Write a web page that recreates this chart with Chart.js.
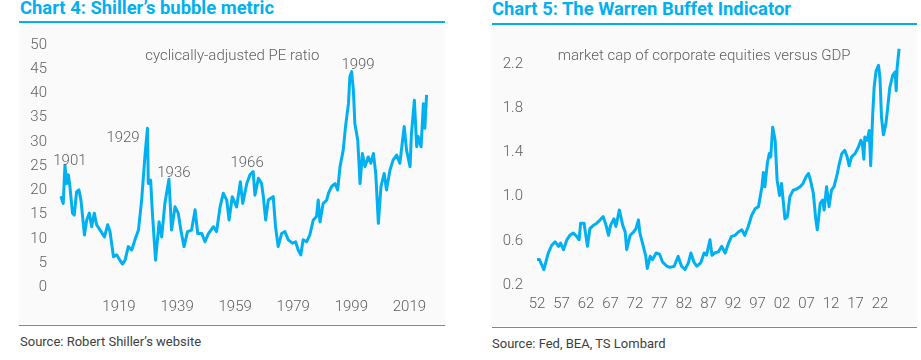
<!DOCTYPE html>
<html>
<head>
<meta charset="utf-8">
<script src="https://cdn.jsdelivr.net/npm/chart.js@4.4.1/dist/chart.umd.min.js"></script>
<style>
  html, body { margin:0; padding:0; background:#ffffff; width:921px; height:360px; overflow:hidden; }
  body { position:relative; font-family: Roboto, "Liberation Sans", sans-serif; }
  .title { position:absolute; font-weight:700; font-size:18.4px; color:#00B0F0; white-space:nowrap; line-height:18px; }
  .rule { position:absolute; height:2px; background:#00B0F0; }
  .brule { position:absolute; height:1px; background:#1EA7E1; }
  .panel { position:absolute; background:#fafafa; }
  .source { position:absolute; font-size:13px; color:#404040; white-space:nowrap; line-height:13px; }
  canvas { position:absolute; }
</style>
</head>
<body>
<div class="panel" style="left:19px;top:24px;width:426px;height:300px;"></div>
<div class="panel" style="left:491px;top:26px;width:426px;height:300px;"></div>
<div class="title" style="left:20px;top:-1px;">Chart 4: Shiller’s bubble metric</div>
<div class="rule" style="left:19px;top:21px;width:426px;"></div>
<div class="title" style="left:492px;top:0px;">Chart 5: The Warren Buffet Indicator</div>
<div class="rule" style="left:492px;top:23px;width:425px;"></div>
<div class="brule" style="left:19px;top:325px;width:426px;"></div>
<div class="brule" style="left:492px;top:327px;width:425px;"></div>
<div class="source" style="left:20px;top:335px;">Source: Robert Shiller’s website</div>
<div class="source" style="left:492px;top:337px;">Source: Fed, BEA, TS Lombard</div>
<canvas id="c1" width="426" height="301" style="left:19px;top:24px;width:426px;height:301px;"></canvas>
<canvas id="c2" width="425" height="297" style="left:492px;top:30px;width:425px;height:297px;"></canvas>
<script>
// ---- Chart 4: Shiller CAPE ----
const shillerYears = [1899.0,1899.8,1900.4,1901.0,1901.6,1902.1,1903.0,1903.6,1904.4,1905.2,1905.9,1907.1,1907.9,1908.8,1909.6,1910.5,1911.3,1912.5,1914.0,1915.1,1915.9,1917.1,1918.2,1919.3,1920.2,1921.1,1922.2,1923.4,1924.5,1925.7,1926.8,1928.0,1928.8,1929.1,1929.9,1930.5,1931.6,1932.8,1933.7,1934.8,1936.2,1937.1,1938.3,1939.4,1940.3,1941.4,1942.6,1944.0,1945.2,1946.1,1947.5,1948.6,1949.8,1951.5,1952.6,1953.8,1954.9,1956.1,1956.9,1958.0,1959.5,1960.8,1961.6,1963.0,1964.1,1965.2,1965.8,1967.0,1968.1,1968.7,1969.5,1970.4,1972.1,1972.9,1973.8,1975.0,1976.1,1977.3,1978.7,1979.8,1980.7,1981.6,1982.4,1983.6,1984.7,1985.9,1987.0,1987.6,1988.2,1989.3,1990.5,1991.1,1992.2,1993.4,1994.3,1995.1,1996.2,1997.0,1998.0,1998.5,1999.1,1999.7,2000.2,2001.2,2002.0,2002.8,2003.7,2004.8,2005.7,2006.6,2007.4,2008.3,2009.2,2010.3,2011.1,2012.3,2013.4,2014.6,2015.7,2017.2,2018.0,2019.2,2019.7,2020.7,2021.5,2022.0,2023.0,2023.8,2024.3,2024.9];
const shillerCape = [18.8,17.3,25.2,21.4,23.2,20.8,15.3,14.9,19.7,20.1,18.0,10.8,13.9,15.3,12.5,15.3,12.9,11.8,10.4,12.9,11.5,6.3,6.7,5.6,4.8,5.6,8.4,7.7,9.8,11.8,18.0,27.6,32.8,21.4,22.1,15.3,5.6,13.5,10.4,17.3,22.3,11.8,16.6,15.3,11.8,8.4,11.5,11.8,16.0,11.1,11.1,9.4,11.1,12.5,11.5,16.6,19.4,18.0,13.9,18.7,16.6,21.8,17.3,21.4,23.2,23.9,19.0,22.5,21.4,18.7,13.9,18.0,18.7,12.5,8.4,11.1,11.5,9.8,9.1,9.4,7.7,6.7,9.8,9.4,10.8,13.9,14.6,18.0,13.5,17.3,18.0,19.4,20.8,21.4,20.1,24.9,28.3,33.2,37.9,43.5,44.5,40.7,33.8,30.4,21.4,27.6,24.9,26.9,25.6,27.6,23.5,13.2,20.8,23.5,20.1,24.2,26.3,27.3,25.6,33.2,28.3,24.9,31.8,38.6,29.0,31.1,29.0,37.9,32.8,39.7];
const shillerTicksX = [1919,1939,1959,1979,1999,2019];
const shillerTicksY = [0,5,10,15,20,25,30,35,40,45,50];
const shillerNotes = [
  {text:'cyclically-adjusted PE ratio', x:1958.0, y:47.6},
  {text:'1901', x:1902.1, y:26.0},
  {text:'1929', x:1920.4, y:30.8},
  {text:'1936', x:1937.9, y:23.6},
  {text:'1966', x:1963.1, y:25.6},
  {text:'1999', x:2001.3, y:45.9}
];

// ---- Chart 5: Buffett indicator ----
const buffettYears = [1952.0,1952.5,1953.4,1954.3,1955.0,1955.7,1956.4,1956.8,1957.4,1958.1,1958.7,1959.4,1960.1,1960.6,1960.9,1961.6,1962.3,1962.8,1963.5,1964.2,1964.9,1965.5,1966.1,1966.6,1967.0,1967.7,1968.1,1968.8,1969.5,1970.0,1970.3,1971.0,1971.7,1972.2,1972.7,1973.0,1973.7,1974.2,1974.5,1975.1,1975.6,1976.3,1977.0,1977.6,1978.5,1979.1,1980.0,1980.8,1981.5,1982.2,1982.9,1983.4,1984.0,1984.6,1985.4,1986.1,1986.6,1987.3,1987.7,1988.3,1989.0,1989.7,1990.4,1991.1,1991.7,1992.4,1993.1,1993.8,1994.4,1995.1,1995.8,1996.5,1997.2,1997.9,1998.2,1998.5,1999.0,1999.4,1999.7,2000.1,2000.6,2001.0,2001.5,2001.9,2002.6,2003.1,2003.6,2004.3,2005.0,2005.7,2006.3,2006.9,2007.4,2007.8,2008.4,2008.9,2009.2,2009.8,2010.3,2010.6,2011.1,2011.6,2012.1,2012.6,2013.2,2013.7,2014.2,2014.8,2015.3,2015.7,2016.2,2016.9,2017.6,2018.1,2018.4,2018.7,2018.9,2019.4,2019.8,2020.1,2020.5,2020.8,2021.2,2021.7,2022.0,2022.3,2022.7,2023.2,2023.5,2024.0,2024.6,2025.1,2025.3,2025.5,2025.9];
const buffettRatio = [0.43,0.43,0.34,0.49,0.56,0.59,0.55,0.58,0.52,0.61,0.65,0.67,0.64,0.61,0.76,0.76,0.55,0.71,0.74,0.76,0.79,0.82,0.74,0.65,0.74,0.80,0.73,0.88,0.74,0.68,0.52,0.65,0.68,0.71,0.79,0.67,0.55,0.46,0.35,0.46,0.43,0.49,0.48,0.41,0.37,0.36,0.37,0.46,0.37,0.34,0.40,0.49,0.41,0.37,0.40,0.49,0.47,0.61,0.47,0.49,0.50,0.55,0.49,0.58,0.64,0.65,0.68,0.70,0.65,0.73,0.83,0.89,0.91,1.09,1.22,1.09,1.30,1.39,1.36,1.63,1.51,1.15,1.01,1.12,0.80,0.82,1.00,1.06,1.07,1.09,1.12,1.18,1.21,1.15,1.03,0.79,0.70,0.94,0.97,0.88,1.09,0.91,1.06,1.09,1.19,1.30,1.39,1.42,1.36,1.28,1.36,1.39,1.45,1.51,1.48,1.34,1.54,1.51,1.60,1.28,1.74,1.99,2.14,2.19,2.07,1.72,1.56,1.66,1.78,1.99,2.10,2.13,1.96,2.17,2.34];
const buffettTicksX = [1952,1957,1962,1967,1972,1977,1982,1987,1992,1997,2002,2007,2012,2017,2022];
const buffettTicksY = [0.2,0.6,1.0,1.4,1.8,2.2];
const buffettNotes = [
  {text:'market cap of corporate equities versus GDP', x:1986.1, y:2.269}
];

const LINE = '#00B0F0';
const TICKC = '#5f5f5f';
const FONT = {family:'Roboto', size:15, weight:'300'};

const notesPlugin = {
  id:'notes',
  afterDatasetsDraw(chart, args, opts) {
    const ctx = chart.ctx;
    const xs = chart.scales.x, ys = chart.scales.y;
    ctx.save();
    ctx.font = '300 15px Roboto';
    ctx.fillStyle = TICKC;
    ctx.textAlign = 'center';
    ctx.textBaseline = 'middle';
    for (const n of opts.items) {
      ctx.fillText(n.text, xs.getPixelForValue(n.x), ys.getPixelForValue(n.y));
    }
    ctx.restore();
  }
};

function makeChart(id, years, vals, cfg) {
  return new Chart(document.getElementById(id), {
    type:'line',
    data:{ datasets:[{ data: years.map((x,i)=>({x:x, y:vals[i]})), borderColor:LINE, borderWidth:3, pointRadius:0, tension:0, fill:false, borderJoinStyle:'round' }]},
    options:{
      responsive:false, animation:false, maintainAspectRatio:false,
      layout:{ padding:{ top:cfg.padTop, right:cfg.padRight, left:0, bottom:0 } },
      plugins:{ legend:{display:false}, tooltip:{enabled:false}, notes:{items:cfg.notes} },
      scales:{
        x:{ type:'linear', min:cfg.xmin, max:cfg.xmax,
            grid:{display:false, drawTicks:false}, border:{display:false},
            afterBuildTicks:(s)=>{ s.ticks = cfg.ticksX.map(v=>({value:v})); },
            afterFit:(s)=>{ s.height = cfg.xHeight; },
            ticks:{ font:FONT, color:TICKC, padding:cfg.xPad, maxRotation:0, autoSkip:false, callback:cfg.xLabel } },
        y:{ type:'linear', min:cfg.ymin, max:cfg.ymax,
            grid:{display:false, drawTicks:false}, border:{display:false},
            afterBuildTicks:(s)=>{ s.ticks = cfg.ticksY.map(v=>({value:v})); },
            afterFit:(s)=>{ s.width = cfg.yWidth; },
            ticks:{ font:FONT, color:TICKC, padding:cfg.yPad, callback:cfg.yLabel } }
      }
    },
    plugins:[notesPlugin]
  });
}

makeChart('c1', shillerYears, shillerCape, {
  padTop:21, padRight:10, xmin:1896.97, xmax:2027.8, ymin:0, ymax:50,
  ticksX:shillerTicksX, ticksY:shillerTicksY, xHeight:37.7, yWidth:36, xPad:10.5, yPad:8,
  xLabel:(v)=>String(v), yLabel:(v)=>String(v), notes:shillerNotes
});
makeChart('c2', buffettYears, buffettRatio, {
  padTop:15, padRight:12, xmin:1950.57, xmax:2027.1, ymin:0.2, ymax:2.365,
  ticksX:buffettTicksX, ticksY:buffettTicksY, xHeight:42, yWidth:38, xPad:10, yPad:7,
  xLabel:(v)=>String(Math.round(v)%100).padStart(2,'0'), yLabel:(v)=>Number(v).toFixed(1), notes:buffettNotes
});
</script>
</body>
</html>
